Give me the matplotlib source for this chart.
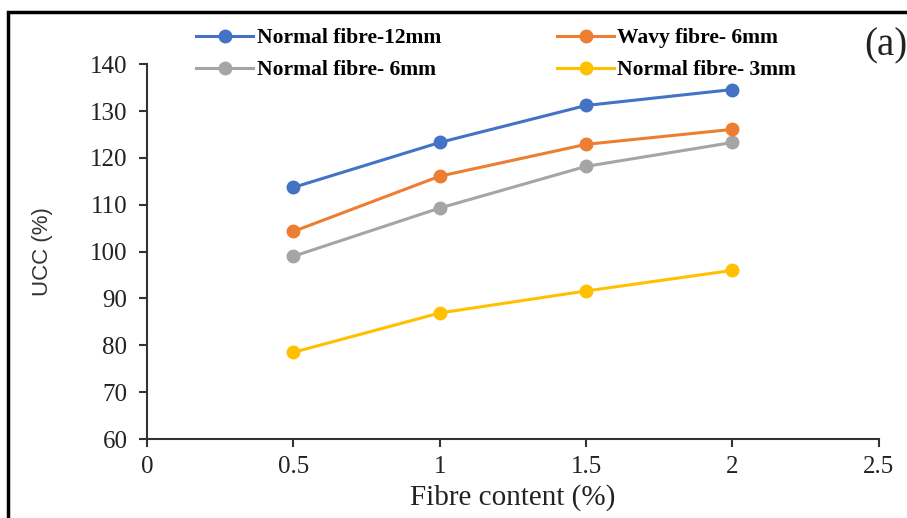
import matplotlib; matplotlib.use("Agg")
import matplotlib.pyplot as plt
from matplotlib.patches import Rectangle

fibre_content = [0.5, 1.0, 1.5, 2.0]
normal_12mm = [113.7, 123.3, 131.2, 134.6]
wavy_6mm    = [104.3, 116.1, 122.9, 126.1]
normal_6mm  = [99.0, 109.3, 118.2, 123.3]
normal_3mm  = [78.5, 86.9, 91.6, 96.0]

series = [("Normal fibre-12mm", normal_12mm, "#4472C4"),
          ("Normal fibre- 6mm", normal_6mm, "#A5A5A5"),
          ("Wavy fibre- 6mm", wavy_6mm, "#ED7D31"),
          ("Normal fibre- 3mm", normal_3mm, "#FFC000")]

plt.rcParams["font.family"] = ["Liberation Serif", "DejaVu Serif"]

fig = plt.figure(figsize=(9.07, 5.18), dpi=100)
ax = fig.add_axes([0.162, 0.1525, 0.807, 0.7235])

for label, vals, col in series:
    ax.plot(fibre_content, vals, color=col, lw=2.2, marker="o", ms=9, label=label)

ax.set_xlim(0, 2.5)
ax.set_ylim(60, 140)
ax.set_xticks([0, 0.5, 1, 1.5, 2, 2.5])
ax.set_xticklabels(["0", "0.5", "1", "1.5", "2", "2.5"])
ax.set_yticks(range(60, 141, 10))
ax.tick_params(labelsize=18, length=6, width=1.5, color="#333333", labelcolor="#222222")
ax.tick_params(axis="x", pad=6)
ax.tick_params(axis="y", pad=8)
for s in ["top", "right"]:
    ax.spines[s].set_visible(False)
for s in ["left", "bottom"]:
    ax.spines[s].set_linewidth(1.5)
    ax.spines[s].set_color("#333333")

ax.set_xlabel("Fibre content (%)", fontsize=21, color="#222222")
ax.xaxis.set_label_coords(0.5, -0.12)
ax.set_ylabel("UCC (%)", fontsize=16, color="#333333", family=["Liberation Sans"])
ax.yaxis.set_label_coords(-0.128, 0.5)

fig.legend(loc="upper left", bbox_to_anchor=(0.195, 0.983), ncol=2, frameon=False,
           prop={"size": 15.5, "weight": "bold"}, columnspacing=5.4, handlelength=2.65,
           handletextpad=0.15, labelspacing=0.55)

fig.text(1.0, 0.912, "(a)", fontsize=28, ha="right", va="center", color="#222222")

fig.patches.append(Rectangle((0.009, -0.1), 1.2, 1.077, transform=fig.transFigure,
                             fill=False, edgecolor="black", lw=2.5))

fig.savefig("out.png", dpi=100)
